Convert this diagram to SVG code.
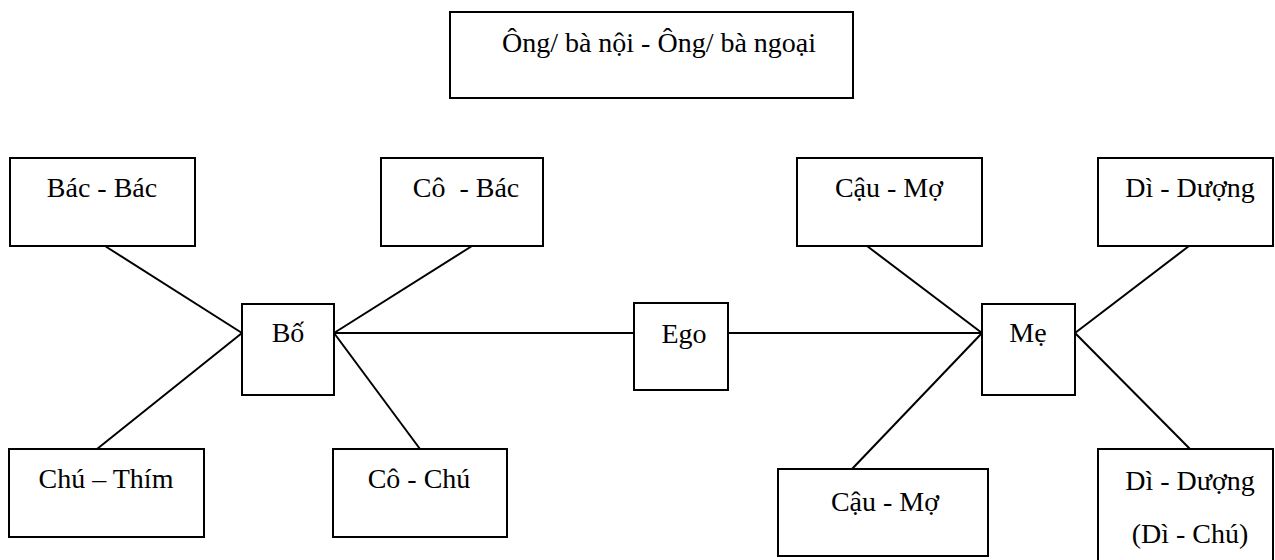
<svg xmlns="http://www.w3.org/2000/svg" width="1275" height="560" viewBox="0 0 1275 560">
<style>
rect.box{fill:#fff;stroke:#000;stroke-width:2}
line{stroke:#000;stroke-width:2}
text{font-family:"Liberation Serif","Times New Roman",serif;font-size:28px;fill:#000;text-anchor:middle}
</style>
<rect width="1275" height="560" fill="#fff"/>
<g id="connectors">
<line x1="105" y1="246" x2="242" y2="333"/>
<line x1="472" y1="246" x2="334" y2="333"/>
<line x1="97" y1="449" x2="242" y2="333"/>
<line x1="420" y1="449" x2="334" y2="333"/>
<line x1="334" y1="333" x2="634" y2="333"/>
<line x1="728" y1="333" x2="982" y2="333"/>
<line x1="867" y1="246" x2="982" y2="333"/>
<line x1="1189" y1="246" x2="1075" y2="333"/>
<line x1="852" y1="469" x2="982" y2="333"/>
<line x1="1190" y1="449" x2="1075" y2="333"/>
</g>
<g id="grandparents"><rect class="box" x="450" y="12" width="403" height="86"/><text x="659" y="52">Ông/ bà nội - Ông/ bà ngoại</text></g>
<g id="bac-bac"><rect class="box" x="10" y="158" width="185" height="88"/><text x="102" y="197">Bác - Bác</text></g>
<g id="co-bac"><rect class="box" x="381" y="158" width="162" height="88"/><text x="466" y="197" xml:space="preserve">Cô  - Bác</text></g>
<g id="bo"><rect class="box" x="242" y="304" width="92" height="91"/><text x="288" y="342">Bố</text></g>
<g id="ego"><rect class="box" x="634" y="303" width="94" height="87"/><text x="684" y="343">Ego</text></g>
<g id="me"><rect class="box" x="982" y="304" width="93" height="91"/><text x="1028" y="342">Mẹ</text></g>
<g id="chu-thim"><rect class="box" x="9" y="449" width="195" height="88"/><text x="106" y="488">Chú – Thím</text></g>
<g id="co-chu"><rect class="box" x="333" y="449" width="174" height="88"/><text x="419" y="488">Cô - Chú</text></g>
<g id="cau-mo-top"><rect class="box" x="797" y="158" width="185" height="88"/><text x="889" y="197">Cậu - Mợ</text></g>
<g id="di-duong-top"><rect class="box" x="1098" y="158" width="175" height="88"/><text x="1190" y="197">Dì - Dượng</text></g>
<g id="cau-mo-bottom"><rect class="box" x="778" y="469" width="210" height="87"/><text x="885" y="511">Cậu - Mợ</text></g>
<g id="di-duong-bottom"><rect class="box" x="1098" y="449" width="175" height="130"/><text x="1190" y="490">Dì - Dượng</text><text x="1190" y="543">(Dì - Chú)</text></g>
</svg>
